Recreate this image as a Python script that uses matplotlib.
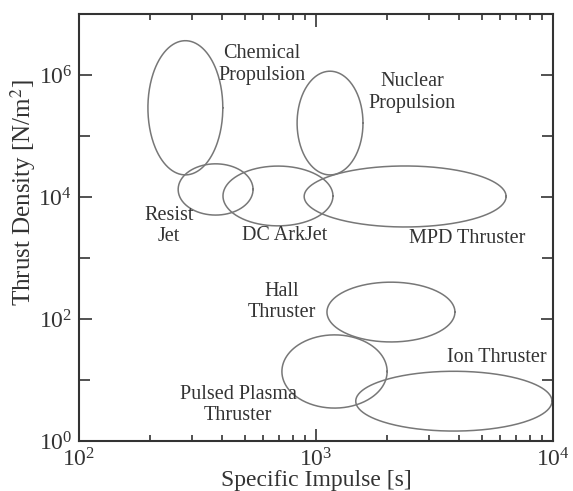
import numpy as np
import matplotlib
matplotlib.use("Agg")
import matplotlib.pyplot as plt
from matplotlib.ticker import FixedLocator, NullFormatter

# thruster regions: centre (s, N/m^2) and half-extent in decades
names = ["Chemical", "Nuclear", "Resist Jet", "DC ArkJet", "MPD",
         "Hall", "Pulsed Plasma", "Ion"]
isp_center = [281, 1146, 377, 691, 2377, 2071, 1197, 3817]
dens_center = [2.9e5, 1.63e5, 1.33e4, 1.04e4, 1.02e4, 130, 13.8, 4.5]
isp_halfdec = [0.158, 0.139, 0.158, 0.232, 0.426, 0.27, 0.222, 0.414]
dens_halfdec = [1.10, 0.85, 0.42, 0.49, 0.50, 0.49, 0.60, 0.49]

# label text and where it sits
labels = ["Chemical\nPropulsion", "Nuclear\nPropulsion", "Resist\nJet", "DC ArkJet",
          "MPD Thruster", "Hall\nThruster", "Pulsed Plasma\nThruster", "Ion Thruster"]
label_x = [592, 2541, 240, 740, 4336, 720, 469, 5807]
label_y = [1.5e6, 5.1e5, 3350, 2300, 2050, 190, 3.9, 23.8]

# ticks
x_major = [1e2, 1e3, 1e4]
x_minor = [m * d for d in (1e2, 1e3) for m in range(2, 10)]
y_major = [1e0, 1e2, 1e4, 1e6]
y_minor = [1e1, 1e3, 1e5]

plt.rcParams['font.family'] = ['Liberation Serif', 'DejaVu Serif']
plt.rcParams['mathtext.fontset'] = 'stix'

fig = plt.figure(figsize=(5.73, 4.91), dpi=100)
ax = fig.add_axes([0.1379, 0.1018, 0.8272, 0.8697])

t = np.linspace(0, 2 * np.pi, 300)
for cx, cy, a, b in zip(isp_center, dens_center, isp_halfdec, dens_halfdec):
    ax.plot(10 ** (np.log10(cx) + a * np.cos(t)),
            10 ** (np.log10(cy) + b * np.sin(t)),
            color='#777777', lw=1.1)

for txt, x, y in zip(labels, label_x, label_y):
    ax.text(x, y, txt, ha='center', va='center', fontsize=14.5,
            color='#333333', linespacing=1.2)

ax.set_xscale('log')
ax.set_yscale('log')
ax.set_xlim(1e2, 1e4)
ax.set_ylim(1e0, 1e7)

ax.xaxis.set_major_locator(FixedLocator(x_major))
ax.xaxis.set_minor_locator(FixedLocator(x_minor))
ax.xaxis.set_minor_formatter(NullFormatter())
ax.yaxis.set_major_locator(FixedLocator(y_major))
ax.yaxis.set_minor_locator(FixedLocator(y_minor))
ax.yaxis.set_minor_formatter(NullFormatter())

ax.tick_params(which='both', direction='in', top=True, right=True,
               colors='#333333', labelsize=17, width=1.2)
ax.tick_params(which='major', length=9, pad=5)
ax.tick_params(axis='x', which='minor', length=4)
ax.tick_params(axis='y', which='minor', length=8)

# the "5" minor ticks are a little longer
for tk in ax.xaxis.get_minor_ticks():
    loc = tk.get_loc()
    if abs(loc / 10 ** np.floor(np.log10(loc)) - 5) < 1e-6:
        tk.tick1line.set_markersize(7)
        tk.tick2line.set_markersize(7)

for s in ax.spines.values():
    s.set_linewidth(1.5)
    s.set_color('#333333')

ax.set_xlabel("Specific Impulse [s]", fontsize=17, color='#333333', va='center')
ax.xaxis.set_label_coords(0.5, -0.092)
ax.set_ylabel(r"Thrust Density [N/m$^2$]", fontsize=18, color='#333333', va='center')
ax.yaxis.set_label_coords(-0.118, 0.581)

fig.savefig("out.png", dpi=100)
